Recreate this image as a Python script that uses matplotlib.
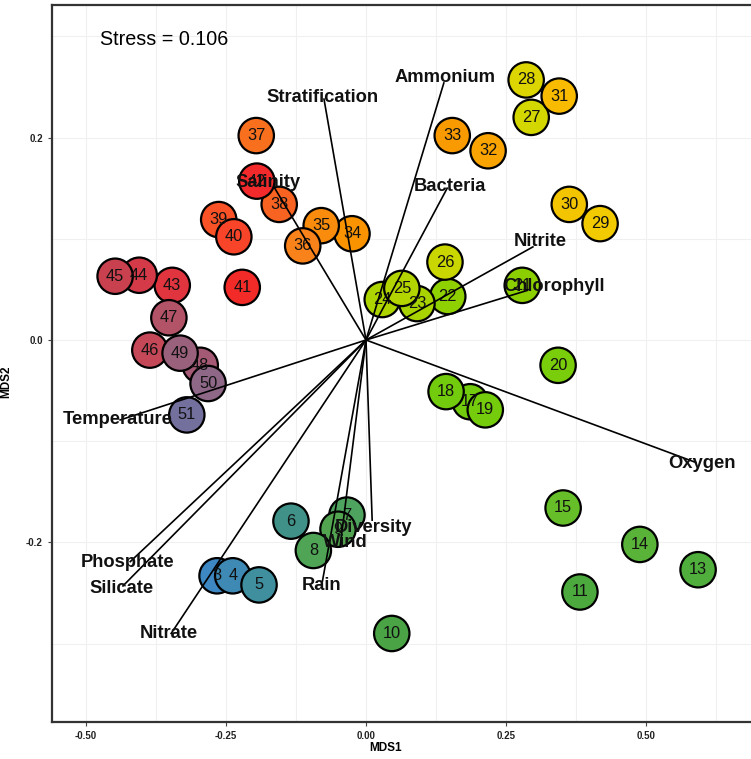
import numpy as np
import matplotlib.pyplot as plt

plt.rcParams['font.family'] = ['Liberation Sans', 'DejaVu Sans']

# site scores from the NMDS
site_ids = [3, 4, 5, 6, 7, 9, 8, 10, 11, 13, 14, 15, 17, 18, 19, 20, 21, 22, 23, 24, 25, 26,
            27, 28, 29, 30, 31, 32, 33, 34, 35, 36, 37, 38, 39, 40, 41, 42, 43, 44, 45,
            46, 47, 48, 49, 50, 51]
mds1 = [-0.266, -0.238, -0.191, -0.134, -0.034, -0.050, -0.094, 0.046, 0.382, 0.593, 0.489,
        0.352, 0.186, 0.143, 0.213, 0.343, 0.279, 0.146, 0.091, 0.029, 0.064, 0.141,
        0.295, 0.286, 0.418, 0.363, 0.345, 0.218, 0.154, -0.025, -0.080, -0.113, -0.196,
        -0.155, -0.263, -0.236, -0.221, -0.195, -0.346, -0.405, -0.448,
        -0.386, -0.352, -0.296, -0.332, -0.282, -0.320]
mds2 = [-0.233, -0.233, -0.242, -0.179, -0.173, -0.187, -0.208, -0.290, -0.249, -0.227, -0.202,
        -0.166, -0.061, -0.051, -0.069, -0.025, 0.054, 0.043, 0.036, 0.040, 0.051, 0.077,
        0.220, 0.257, 0.115, 0.134, 0.241, 0.187, 0.202, 0.105, 0.113, 0.093, 0.202,
        0.134, 0.119, 0.102, 0.052, 0.157, 0.054, 0.064, 0.063,
        -0.010, 0.022, -0.025, -0.013, -0.043, -0.074]
site_colors = ['#3d87c2', '#3f8ab4', '#3f8f9f', '#409188', '#4ea35e', '#52a450', '#4fa555',
               '#4aa345', '#4ca93d', '#50ae3c', '#58b338', '#66bf28', '#72cb0c', '#72cb0c',
               '#74cc0c', '#7acd0a', '#8ccf00', '#8fd000', '#a9d300', '#aed400', '#b4d400',
               '#c9d600', '#d4d600', '#dcd500', '#f2ca00', '#f3c400', '#f8bb00', '#f9a400',
               '#f99b00', '#f99400', '#f98c0c', '#f9821a', '#f8701e', '#f86322', '#f85226',
               '#f84428', '#f22a28', '#f22a2c', '#e0343e', '#d43a48', '#c9414f', '#c44858',
               '#b35368', '#a45a74', '#9a617c', '#8f6888', '#74709e']

# environmental fitting vectors
env_names = ['Ammonium', 'Stratification', 'Bacteria', 'Salinity', 'Nitrite', 'Chlorophyll',
             'Oxygen', 'Temperature', 'Phosphate', 'Silicate', 'Nitrate', 'Rain', 'Wind',
             'Diversity']
env_x = [0.139, -0.075, 0.145, -0.163, 0.298, 0.288, 0.589, -0.439, -0.421, -0.434, -0.348,
         -0.079, -0.046, 0.011]
env_y = [0.254, 0.238, 0.150, 0.150, 0.092, 0.049, -0.121, -0.079, -0.219, -0.243, -0.290,
         -0.242, -0.203, -0.178]
label_dx = [0.003, -0.002, 0.005, -0.012, 0.014, 0.048, 0.011, -0.004, -0.005, -0.002, -0.005,
            0.0, 0.010, 0.002]
label_dy = [0.005, 0.002, 0.002, 0.006, 0.005, 0.004, -0.001, 0.0, -0.001, -0.003, 0.0,
            -0.001, 0.003, -0.007]

stress = 0.106

fig = plt.figure(figsize=(7.51, 7.59), dpi=100)
W, H = 751, 759
ax = fig.add_axes([52 / W, (H - 722) / H, (770 - 52) / W, (722 - 5) / H])
ax.set_xlim((52 - 366) / 560, (770 - 366) / 560)
ax.set_ylim(-(722 - 340) / 1012, (340 - 5) / 1012)

# faint ggplot-like grid
for gx in np.arange(-0.5, 0.76, 0.125):
    ax.axvline(gx, color='#f0f0f0', lw=0.8, zorder=0)
for gy in np.arange(-0.3, 0.31, 0.1):
    ax.axhline(gy, color='#f0f0f0', lw=0.8, zorder=0)

ax.scatter(mds1, mds2, s=650, c=site_colors, edgecolors='black', linewidths=1.6, zorder=2)
for sid, x, y in zip(site_ids, mds1, mds2):
    ax.text(x, y, str(sid), ha='center', va='center', fontsize=11.8, color='#111111',
            zorder=3)

for name, x, y, dx, dy in zip(env_names, env_x, env_y, label_dx, label_dy):
    ax.plot([0, x], [0, y], color='black', lw=1.2, zorder=4)
    ax.text(x + dx, y + dy, name, ha='center', va='center', fontsize=13.2,
            fontweight='bold', color='#111111', zorder=5)

ax.text(-0.475, 0.297, f'Stress = {stress}', fontsize=14.2, ha='left', va='center')

ax.set_xticks([-0.5, -0.25, 0.0, 0.25, 0.5])
ax.set_xticklabels(['-0.50', '-0.25', '0.00', '0.25', '0.50'])
ax.set_yticks([-0.2, 0.0, 0.2])
ax.set_yticklabels(['-0.2', '0.0', '0.2'])
ax.tick_params(labelsize=7, colors='#444444', length=3, width=0.8)
for lab in ax.get_xticklabels() + ax.get_yticklabels():
    lab.set_fontweight('bold')
    lab.set_color('#222222')

for side in ['left', 'bottom', 'top']:
    ax.spines[side].set_color('#333333')
    ax.spines[side].set_linewidth(1.6)
ax.spines['right'].set_visible(False)

ax.set_xlabel('MDS1', fontsize=8.5, fontweight='bold', labelpad=4)
ax.xaxis.set_label_coords((386 - 52) / (770 - 52), -0.028)
ax.set_ylabel('MDS2', fontsize=8.5, fontweight='bold')
ax.yaxis.set_label_coords(-0.055, 0.474)

fig.savefig('out.png', dpi=100)
